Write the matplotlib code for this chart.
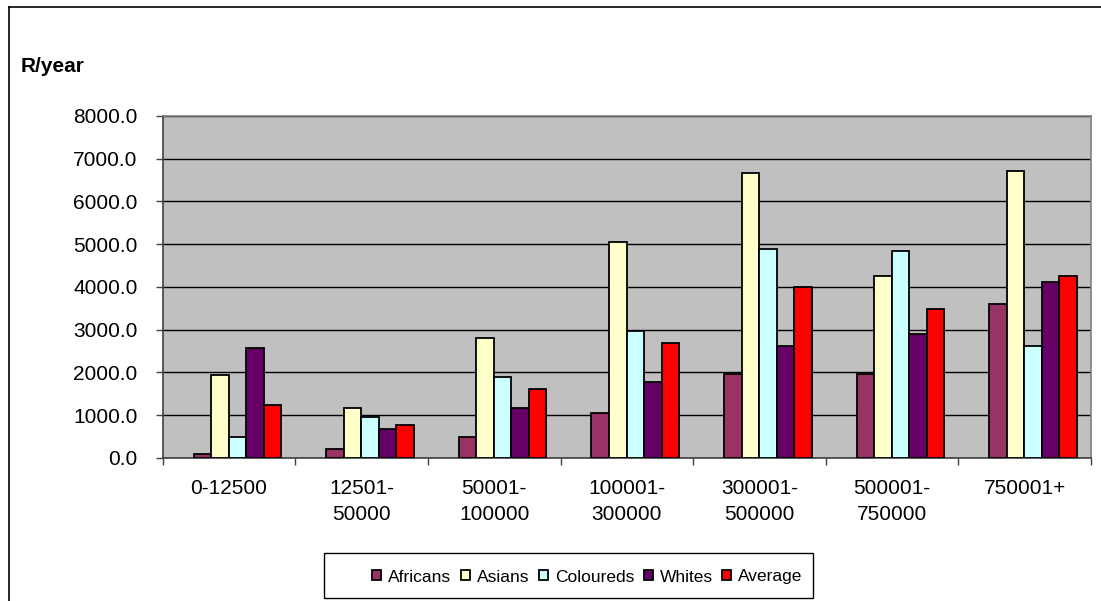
import numpy as np
import matplotlib.pyplot as plt
from matplotlib.lines import Line2D
from matplotlib.patches import Rectangle

plt.rcParams['font.family'] = ['Liberation Sans', 'DejaVu Sans']

# household income bands (R/year) and spending per group
categories = ['0-12500', '12501-\n50000', '50001-\n100000', '100001-\n300000',
              '300001-\n500000', '500001-\n750000', '750001+']
africans = [80, 195, 476, 1046, 1967, 1967, 3607]
asians = [1928, 1155, 2810, 5058, 6667, 4254, 6713]
coloureds = [476, 960, 1881, 2966, 4895, 4848, 2607]
whites = [2576, 679, 1155, 1764, 2615, 2888, 4106]
average = [1241, 757, 1600, 2685, 4005, 3490, 4254]

series = [('Africans', africans, '#993366'),
          ('Asians', asians, '#FFFFCC'),
          ('Coloureds', coloureds, '#CCFFFF'),
          ('Whites', whites, '#660066'),
          ('Average', average, '#FF0000')]

W, H = 1101, 601
fig = plt.figure(figsize=(W / 100, H / 100), dpi=100)
ax = fig.add_axes([0.1478, 0.2384, 0.8432, 0.5686])
ax.set_facecolor('#C0C0C0')

x = np.arange(len(categories))
w = 0.132
shift = 0.063
for k, (name, vals, col) in enumerate(series):
    ax.bar(x + shift + (k - 2) * w, vals, width=w, color=col,
           edgecolor='black', linewidth=1.3, label=name, zorder=3)

ax.set_xlim(-0.5, len(categories) - 0.5)
ax.set_ylim(0, 8000)
yt = np.arange(0, 8001, 1000)
ax.set_yticks(yt)
ax.set_yticklabels([f'{v:.1f}' for v in yt], fontsize=15)
ax.yaxis.grid(True, color='black', linewidth=1.0, zorder=1)
ax.set_axisbelow(True)

# category boundaries get the ticks, labels sit in the middle
ax.set_xticks(np.arange(-0.5, len(categories), 1.0))
ax.set_xticklabels([])
ax.set_xticks(x, minor=True)
ax.set_xticklabels(categories, minor=True, fontsize=15, linespacing=1.5)
ax.tick_params(axis='x', which='minor', length=0, pad=15)
ax.tick_params(axis='x', which='major', length=5, color='#404040', width=1)
ax.tick_params(axis='y', length=5, color='#404040', width=1, pad=13)

for side in ['top', 'right']:
    ax.spines[side].set_color('#808080')
    ax.spines[side].set_linewidth(1.2)
for side in ['left', 'bottom']:
    ax.spines[side].set_color('#404040')
    ax.spines[side].set_linewidth(1.2)

fig.text(20.5 / W, 1 - 67 / H, 'R/year', fontsize=15, fontweight='bold',
         va='center', ha='left')

# legend entries, with its box drawn separately
leg = ax.legend(loc='center left', bbox_to_anchor=(372 / W, 1 - 577 / H),
                bbox_transform=fig.transFigure, ncol=5, frameon=False,
                fontsize=12.5, handlelength=0.52, handleheight=0.52,
                handletextpad=0.4, columnspacing=0.55, borderpad=0, borderaxespad=0)
for h in leg.legend_handles:
    h.set_linewidth(1.3)
fig.add_artist(Rectangle((324 / W, 1 - 598 / H), (813 - 324) / W, (598 - 553) / H,
                         transform=fig.transFigure, facecolor='none',
                         edgecolor='black', linewidth=1.0))

# outer frame of the chart area
fx = 8.5 / W
fy = 1 - 6.5 / H
fig.add_artist(Line2D([fx, fx], [0, fy], color='black', linewidth=1.2, transform=fig.transFigure))
fig.add_artist(Line2D([fx, 1.0], [fy, fy], color='black', linewidth=1.2, transform=fig.transFigure))

fig.savefig('out.png', dpi=100)
